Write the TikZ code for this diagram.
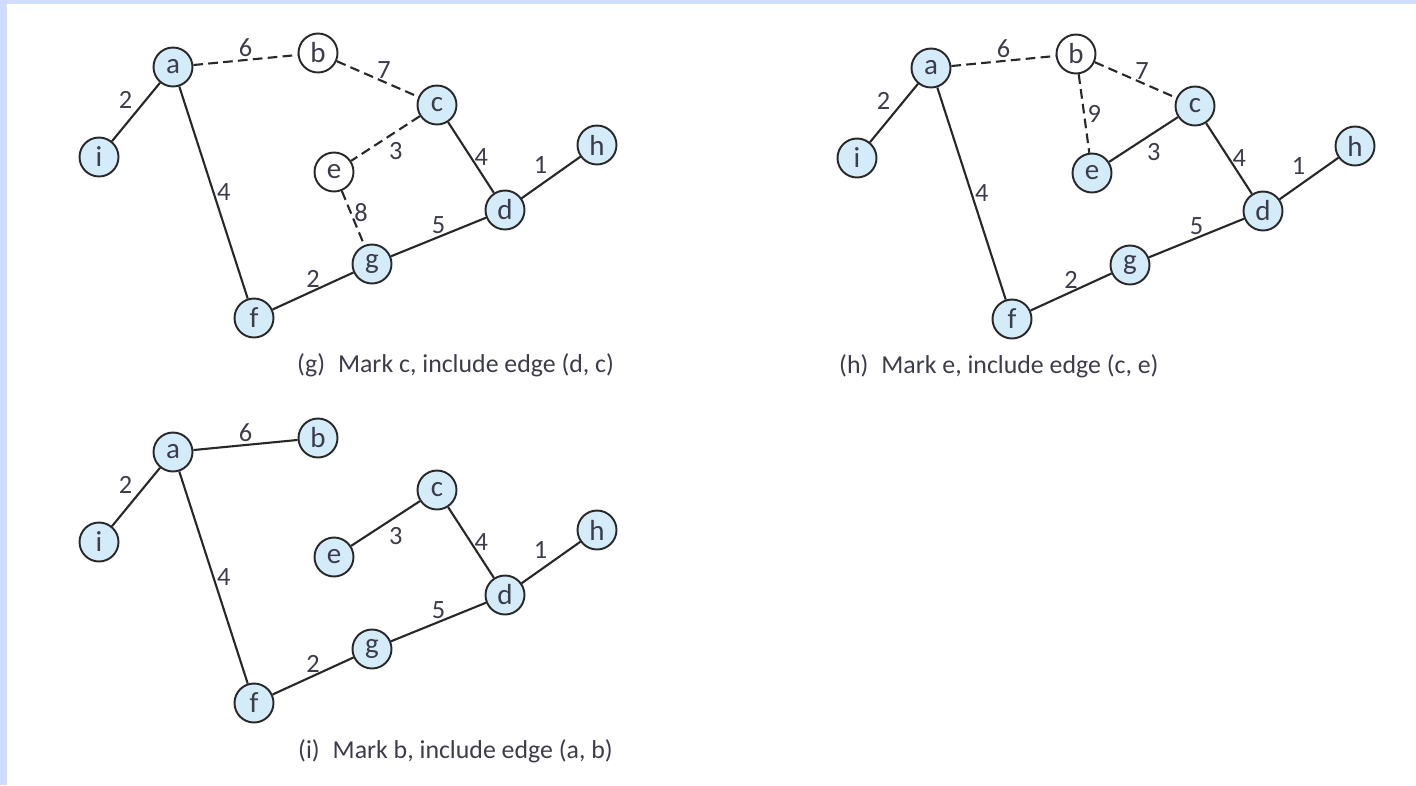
\documentclass[tikz,border=0pt]{standalone}
\usepackage{fontspec}
\setmainfont{Carlito}
\definecolor{nodeblue}{RGB}{212,236,250}
\definecolor{framecol}{RGB}{208,220,255}
\definecolor{inkgray}{RGB}{40,40,40}
\definecolor{textgray}{RGB}{60,60,75}

\begin{document}
\begin{tikzpicture}[x=0.02cm, y=-0.02cm,
  every node/.style={font=\fontsize{15}{16}\selectfont, text=textgray},
  vertex/.style={circle, draw=inkgray, line width=1.1pt, fill=nodeblue,
                 minimum size=0.78cm, inner sep=0pt, font=\fontsize{16.5}{17}\selectfont},
  unmarked/.style={vertex, fill=white},
  tree/.style={line width=1.2pt, inkgray},
  fringe/.style={tree, dash pattern=on 5.5pt off 3pt},
  wt/.style={inner sep=1.5pt},
  caption/.style={anchor=west, font=\fontsize{14.7}{17}\selectfont}
]
  \useasboundingbox (0,0) rectangle (1416,785);
  \fill[framecol] (0,0) rectangle (1416,4);
  \fill[framecol] (0,0) rectangle (7,785);

  % (g) mark c
  \node[vertex]   (ga) at (173,67)  {a};
  \node[unmarked] (gb) at (318,53)  {b};
  \node[vertex]   (gc) at (437,105) {c};
  \node[vertex]   (gi) at (99,157)  {i};
  \node[unmarked] (ge) at (334,172) {e};
  \node[vertex]   (gh) at (597,145) {h};
  \node[vertex]   (gd) at (505,210) {d};
  \node[vertex]   (gg) at (372,264) {g};
  \node[vertex]   (gf) at (254,318) {f};
  \draw[fringe] (ga) -- (gb) node[wt, midway, above] {6};
  \draw[fringe] (gb) -- (gc) node[wt, pos=0.58, above] {7};
  \draw[tree]   (ga) -- (gi) node[wt, midway, above left] {2};
  \draw[tree]   (ga) -- (gf) node[wt, midway, right] {4};
  \draw[fringe] (gc) -- (ge) node[wt, midway, below right] {3};
  \draw[tree]   (gc) -- (gd) node[wt, midway, right] {4};
  \draw[tree]   (gd) -- (gh) node[wt, midway, above left] {1};
  \draw[fringe] (ge) -- (gg) node[wt, pos=0.4, right] {8};
  \draw[tree]   (gg) -- (gd) node[wt, midway, above] {5};
  \draw[tree]   (gf) -- (gg) node[wt, midway, above] {2};
  \node[caption] (gcap) at (291,365) {(g)\enspace Mark c, include edge (d, c)};

  % (h) mark e
  \begin{scope}[shift={(758,1)}]
    \node[vertex]   (ha) at (173,67)  {a};
    \node[unmarked] (hb) at (318,53)  {b};
    \node[vertex]   (hc) at (437,105) {c};
    \node[vertex]   (hi) at (99,157)  {i};
    \node[vertex]   (he) at (334,172) {e};
    \node[vertex]   (hh) at (597,145) {h};
    \node[vertex]   (hd) at (505,210) {d};
    \node[vertex]   (hg) at (372,264) {g};
    \node[vertex]   (hf) at (254,318) {f};
    \draw[fringe] (ha) -- (hb) node[wt, midway, above] {6};
    \draw[fringe] (hb) -- (hc) node[wt, pos=0.58, above] {7};
    \draw[fringe] (hb) -- (he) node[wt, midway, right] {9};
    \draw[tree]   (ha) -- (hi) node[wt, midway, above left] {2};
    \draw[tree]   (ha) -- (hf) node[wt, midway, right] {4};
    \draw[tree]   (hc) -- (he) node[wt, midway, below right] {3};
    \draw[tree]   (hc) -- (hd) node[wt, midway, right] {4};
    \draw[tree]   (hd) -- (hh) node[wt, midway, above left] {1};
    \draw[tree]   (hg) -- (hd) node[wt, midway, above] {5};
    \draw[tree]   (hf) -- (hg) node[wt, midway, above] {2};
    \node[caption] (hcap) at (75,365) {(h)\enspace Mark e, include edge (c, e)};
  \end{scope}

  % (i) mark b
  \begin{scope}[shift={(0,385)}]
    \node[vertex] (ia) at (173,67)  {a};
    \node[vertex] (ib) at (318,53)  {b};
    \node[vertex] (ic) at (437,105) {c};
    \node[vertex] (ii) at (99,157)  {i};
    \node[vertex] (ie) at (334,172) {e};
    \node[vertex] (ih) at (597,145) {h};
    \node[vertex] (id) at (505,210) {d};
    \node[vertex] (ig) at (372,264) {g};
    \node[vertex] (if) at (254,318) {f};
    \draw[tree] (ia) -- (ib) node[wt, midway, above] {6};
    \draw[tree] (ia) -- (ii) node[wt, midway, above left] {2};
    \draw[tree] (ia) -- (if) node[wt, midway, right] {4};
    \draw[tree] (ic) -- (ie) node[wt, midway, below right] {3};
    \draw[tree] (ic) -- (id) node[wt, midway, right] {4};
    \draw[tree] (id) -- (ih) node[wt, midway, above left] {1};
    \draw[tree] (ig) -- (id) node[wt, midway, above] {5};
    \draw[tree] (if) -- (ig) node[wt, midway, above] {2};
    \node[caption] (icap) at (292,366) {(i)\enspace Mark b, include edge (a, b)};
  \end{scope}
\end{tikzpicture}
\end{document}
